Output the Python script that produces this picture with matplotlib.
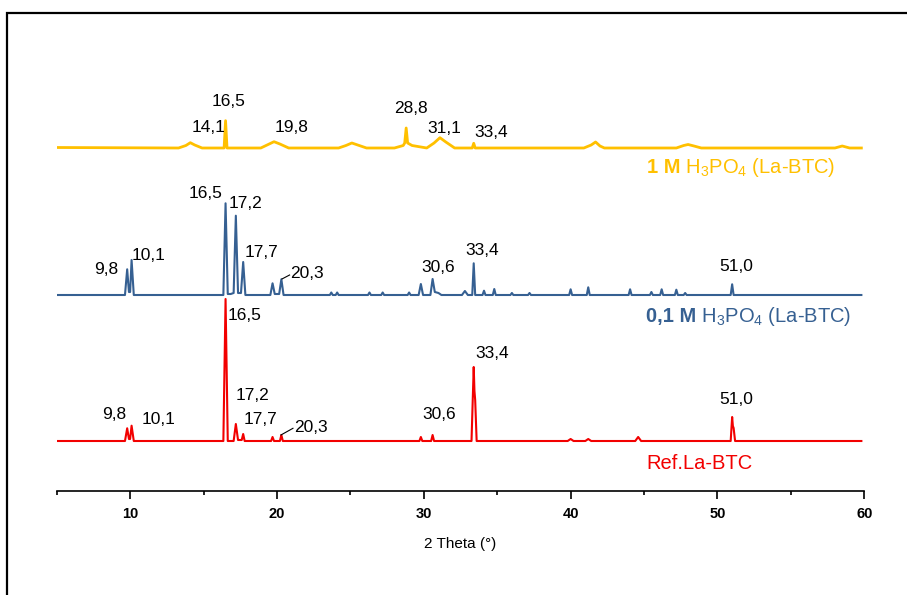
import matplotlib
matplotlib.use("Agg")
import matplotlib.pyplot as plt
from matplotlib.patches import Rectangle

plt.rcParams['font.family'] = ['Liberation Sans', 'DejaVu Sans']
plt.rcParams['mathtext.fontset'] = 'custom'
plt.rcParams['mathtext.rm'] = 'Liberation Sans'
plt.rcParams['mathtext.it'] = 'Liberation Sans:italic'
plt.rcParams['mathtext.bf'] = 'Liberation Sans:bold'

# Ref. La-BTC
tt_ref = [5, 9.65, 9.8, 9.92, 10.0, 10.1, 10.25, 16.35, 16.5, 16.65, 17.05, 17.2, 17.35,
          17.6, 17.7, 17.8, 19.6, 19.7, 19.8, 20.2, 20.3, 20.4, 29.7, 29.8, 29.9,
          30.5, 30.6, 30.7, 33.25, 33.4, 33.45, 33.5, 33.6, 39.8, 40.0, 40.2, 41.0,
          41.2, 41.4, 44.4, 44.6, 44.8, 50.9, 51.0, 51.05, 51.1, 51.2, 59.8]
int_ref = [0, 0, 12.7, 2, 2, 15.3, 0, 0, 142, 0, 0, 17, 1,
           1, 7, 0, 0, 4, 0, 0, 6, 0, 0, 4, 0,
           0, 6, 0, 0, 74, 50, 41, 0, 0, 2, 0, 0,
           2, 0, 0, 4, 0, 0, 24, 15, 13, 0, 0]

# 0,1 M H3PO4 (La-BTC)
tt_01 = [5, 9.65, 9.8, 9.92, 10.0, 10.1, 10.25, 16.35, 16.5, 16.65, 16.85, 17.05, 17.2,
         17.35, 17.55, 17.7, 17.85, 19.55, 19.7, 19.85, 20.15, 20.3, 20.45,
         23.6, 23.7, 23.8, 24.0, 24.1, 24.2, 26.2, 26.3, 26.4, 27.1, 27.2, 27.3,
         28.9, 29.0, 29.1, 29.65, 29.8, 29.95, 30.45, 30.6, 30.75, 31.0, 31.2,
         32.6, 32.8, 33.0, 33.3, 33.4, 33.5, 34.0, 34.1, 34.2, 34.7, 34.8, 34.9,
         35.9, 36.0, 36.1, 37.1, 37.2, 37.3, 39.9, 40.0, 40.1, 41.1, 41.2, 41.3,
         43.95, 44.05, 44.15, 45.4, 45.5, 45.6, 46.1, 46.2, 46.3, 47.1, 47.2, 47.3,
         47.7, 47.8, 47.9, 50.9, 51.0, 51.1, 59.8]
int_01 = [0, 0, 25.7, 3, 3, 35, 0, 0, 91.7, 1, 1, 2, 79.3,
          2, 2, 33, 0, 0, 11.7, 1, 1, 15.7, 0,
          0, 2.5, 0, 0, 2.5, 0, 0, 2.5, 0, 0, 2.5, 0,
          0, 2.5, 0, 0, 11, 0, 0, 16, 3, 2, 0,
          0, 4, 0, 0, 31.7, 0, 0, 4.3, 0, 0, 6, 0,
          0, 2, 0, 0, 2, 0, 0, 5.7, 0, 0, 7.7, 0,
          0, 5.7, 0, 0, 3, 0, 0, 5.7, 0, 0, 5.3, 0,
          0, 2, 0, 0, 10.7, 0, 0]

# 1 M H3PO4 (La-BTC)
tt_1 = [5, 13.3, 13.8, 14.1, 14.4, 14.9, 16.4, 16.5, 16.6, 18.9, 19.4, 19.8, 20.2, 20.8,
        24.2, 24.7, 25.1, 25.5, 26.1, 28.0, 28.6, 28.7, 28.8, 28.9, 29.2, 30.2, 30.7,
        31.1, 31.5, 32.1, 33.3, 33.4, 33.5, 40.9, 41.4, 41.7, 42.0, 42.3, 47.2, 47.7,
        48.0, 48.4, 48.9, 58.0, 58.5, 59.0, 59.8]
int_1 = [0.5, 0, 2.5, 5.3, 3, 0, 0, 27.3, 0, 0, 3.5, 6.3, 4, 0,
         0, 2.5, 5, 3, 0, 0, 2.5, 5, 20, 5, 2.5, 0, 5,
         10.3, 6, 0, 0, 4.7, 0, 0, 3, 6, 2, 0, 0, 2.5,
         3.5, 2, 0, 0, 2, 0, 0]

# desplazamiento vertical de cada curva
offsets = {'ref': 49.7, '01': 195.7, '1': 342.7}

col_ref = '#f20000'
col_01 = '#366092'
col_1 = '#ffc000'

# etiquetas de picos: (texto, x, y)
labels_1 = [('16,5', 16.68, 389), ('14,1', 15.31, 362.7), ('19,8', 21.02, 363),
            ('28,8', 29.13, 381.7), ('31,1', 31.40, 361.7), ('33,4', 34.58, 357.7)]
labels_01 = [('9,8', 8.34, 220.7), ('10,1', 11.24, 234.7), ('16,5', 15.16, 297.4),
             ('17,2', 17.84, 286.7), ('17,7', 18.97, 238), ('20,3', 22.04, 216.7),
             ('30,6', 30.99, 223.4), ('33,4', 33.97, 240), ('51,0', 51.31, 224)]
labels_ref = [('16,5', 17.77, 175), ('9,8', 8.91, 76.4), ('10,1', 11.93, 70.7),
              ('17,2', 18.36, 95), ('17,7', 18.91, 70.7), ('20,3', 22.31, 63.4),
              ('30,6', 31.08, 75.7), ('33,4', 34.65, 137.4), ('51,0', 51.31, 90.7)]

fig = plt.figure(figsize=(9.07, 5.95), dpi=100)
ax = fig.add_axes([56.7 / 907, 0.1753, (864.3 - 56.7) / 907, 0.7747])

ax.plot(tt_ref, [v + offsets['ref'] for v in int_ref], color=col_ref, lw=1.5)
ax.plot(tt_01, [v + offsets['01'] for v in int_01], color=col_01, lw=1.5)
ax.plot(tt_1, [v + offsets['1'] for v in int_1], color=col_1, lw=2.0)

for lab in (labels_1, labels_01, labels_ref):
    for txt, x, y in lab:
        ax.text(x, y, txt, ha='center', va='center', fontsize=12.5, color='black')

# lineas guia para 20,3
ax.plot([20.34, 20.86], [211.7, 215.7], color='black', lw=0.8)
ax.plot([20.27, 21.09], [55.7, 62.4], color='black', lw=0.8)

# nombres de las muestras
t1 = ax.text(45.17, 322.7, '1 M', color=col_1, fontsize=14.5, fontweight='bold',
             ha='left', va='center')
ax.annotate(' H$_3$PO$_4$ (La-BTC)', xy=(1, 0.5), xycoords=t1, color=col_1,
            fontsize=14.5, ha='left', va='center')
t2 = ax.text(45.10, 174, '0,1 M', color=col_01, fontsize=14.5, fontweight='bold',
             ha='left', va='center')
ax.annotate(' H$_3$PO$_4$ (La-BTC)', xy=(1, 0.5), xycoords=t2, color=col_01,
            fontsize=14.5, ha='left', va='center')
ax.text(45.17, 27.4, 'Ref.La-BTC', color=col_ref, fontsize=14.5, ha='left', va='center')

ax.set_xlim(5, 60)
ax.set_ylim(0, 460.95)
ax.set_xticks([10, 20, 30, 40, 50, 60])
ax.set_xticks([5, 15, 25, 35, 45, 55], minor=True)
ax.tick_params(axis='x', which='major', length=6, width=1.2, pad=5.5, labelsize=10.5)
ax.tick_params(axis='x', which='minor', length=3, width=1.2)
for lbl in ax.get_xticklabels():
    lbl.set_fontweight('bold')
ax.set_yticks([])
for s in ('left', 'right', 'top'):
    ax.spines[s].set_visible(False)
ax.spines['bottom'].set_linewidth(1.2)
ax.set_xlabel('2 Theta (°)', fontsize=11, labelpad=12)

# marco exterior
fig.patches.append(Rectangle((7 / 907, -0.1), 1.2, (595 - 13) / 595 + 0.1,
                             transform=fig.transFigure, fill=False,
                             edgecolor='black', lw=1.6, clip_on=False))

fig.savefig('out.png', dpi=100)
